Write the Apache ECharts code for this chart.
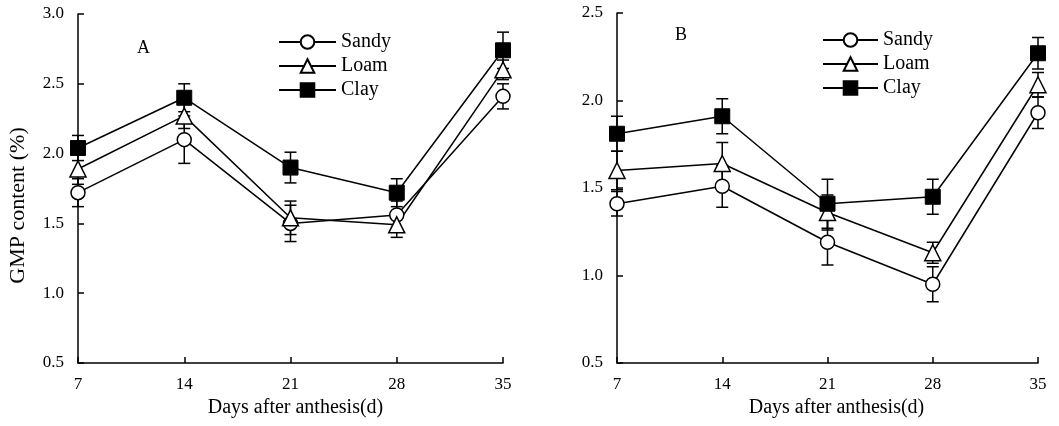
<!DOCTYPE html>
<html><head><meta charset="utf-8">
<script src="https://cdn.jsdelivr.net/npm/echarts@6/dist/echarts.min.js"></script>
<style>html,body{margin:0;padding:0;background:#fff}#c{width:1059px;height:426px}</style>
</head><body><div id="c"></div>
<script>
const days = [7, 14, 21, 28, 35];
const names = ['Sandy', 'Loam', 'Clay'];
// Panel A
const sandyA = [1.72, 2.10, 1.50, 1.56, 2.41];
const loamA  = [1.89, 2.27, 1.54, 1.49, 2.60];
const clayA  = [2.04, 2.40, 1.90, 1.72, 2.74];
const sandyAErr = [0.10, 0.17, 0.13, 0.10, 0.09];
const loamAErr  = [0.11, 0.09, 0.12, 0.09, 0.07];
const clayAErr  = [0.09, 0.10, 0.11, 0.10, 0.13];
// Panel B
const sandyB = [1.41, 1.51, 1.19, 0.95, 1.93];
const loamB  = [1.60, 1.64, 1.36, 1.13, 2.09];
const clayB  = [1.81, 1.91, 1.41, 1.45, 2.27];
const sandyBErr = [0.07, 0.12, 0.13, 0.10, 0.09];
const loamBErr  = [0.11, 0.12, 0.10, 0.06, 0.07];
const clayBErr  = [0.10, 0.10, 0.14, 0.10, 0.09];
const yTicksA = [0.5, 3.0];
const yTicksB = [0.5, 2.5];

const FONT = 'Liberation Serif';
const chart = echarts.init(document.getElementById('c'));

const styles = {
  Sandy: {symbol: 'circle', symbolSize: 14, itemStyle: {color: '#fff', borderColor: '#000', borderWidth: 1.5}},
  Loam:  {symbol: 'triangle', symbolSize: 16, itemStyle: {color: '#fff', borderColor: '#000', borderWidth: 1.5}},
  Clay:  {symbol: 'rect', symbolSize: 15, itemStyle: {color: '#000', borderColor: '#000', borderWidth: 1}}
};

function errSeries(vals, errs, gi, nm) {
  return {
    type: 'custom', name: nm, xAxisIndex: gi, yAxisIndex: gi, z: 1, clip: false,
    data: days.map((d, i) => [d, vals[i] - errs[i], vals[i] + errs[i]]),
    encode: {x: 0, y: [1, 2]},
    silent: true,
    renderItem: function (params, api) {
      const x = api.value(0), lo = api.value(1), hi = api.value(2);
      const p1 = api.coord([x, lo]), p2 = api.coord([x, hi]);
      const w = 6, st = {stroke: '#000', lineWidth: 1.5};
      return {type: 'group', children: [
        {type: 'line', shape: {x1: p1[0], y1: p1[1], x2: p2[0], y2: p2[1]}, style: st},
        {type: 'line', shape: {x1: p1[0] - w, y1: p1[1], x2: p1[0] + w, y2: p1[1]}, style: st},
        {type: 'line', shape: {x1: p2[0] - w, y1: p2[1], x2: p2[0] + w, y2: p2[1]}, style: st}
      ]};
    }
  };
}
function lineSeries(nm, vals, gi) {
  const s = styles[nm];
  return {
    type: 'line', name: nm, xAxisIndex: gi, yAxisIndex: gi, z: 3, clip: false,
    data: days.map((d, i) => [d, vals[i]]),
    symbol: s.symbol, symbolSize: s.symbolSize, itemStyle: s.itemStyle,
    lineStyle: {color: '#000', width: 1.5}, showAllSymbol: true
  };
}

function xAxis(gi, shiftPad) {
  return {
    gridIndex: gi, type: 'value', min: 7, max: 35, interval: 7,
    name: 'Days after anthesis(d)', nameLocation: 'middle', nameGap: 33,
    nameTextStyle: {fontFamily: FONT, fontSize: 20, color: '#000', padding: [0, 0, 0, shiftPad]},
    axisLine: {lineStyle: {color: '#000', width: 1.5}},
    axisTick: {inside: true, length: 6, lineStyle: {color: '#000', width: 1.5}},
    axisLabel: {fontFamily: FONT, fontSize: 17, color: '#000', margin: 13},
    splitLine: {show: false}
  };
}
function yAxis(gi, ticks, withName) {
  return {
    gridIndex: gi, type: 'value', min: ticks[0], max: ticks[1], interval: 0.5,
    name: withName ? 'GMP content (%)' : '', nameLocation: 'middle', nameGap: 49,
    nameTextStyle: {fontFamily: FONT, fontSize: 22, color: '#000', padding: [0, 34, 0, 0]},
    axisLine: {show: true, lineStyle: {color: '#000', width: 1.5}},
    axisTick: {show: true, inside: true, length: 6, lineStyle: {color: '#000', width: 1.5}},
    axisLabel: {fontFamily: FONT, fontSize: 17, color: '#000', margin: 14, formatter: v => v.toFixed(1)},
    splitLine: {show: false}
  };
}
function legend(left, top, w) {
  return {
    orient: 'vertical', left: left, top: top, data: names,
    itemWidth: w, itemHeight: 17, itemGap: 4,
    textStyle: {fontFamily: FONT, fontSize: 20, color: '#000'},
    selectedMode: false
  };
}

chart.setOption({
  animation: false,
  backgroundColor: '#fff',
  grid: [
    {left: 78, top: 14, width: 425, height: 349},
    {left: 617, top: 13, width: 421, height: 350}
  ],
  xAxis: [xAxis(0, 10), xAxis(1, 18)],
  yAxis: [yAxis(0, yTicksA, true), yAxis(1, yTicksB, false)],
  legend: [legend(273, 27, 57), legend(817, 25, 55)],
  graphic: [
    {type: 'text', left: 137, top: 39, style: {text: 'A', font: '18px "Liberation Serif"', fill: '#000'}},
    {type: 'text', left: 675, top: 26, style: {text: 'B', font: '18px "Liberation Serif"', fill: '#000'}}
  ],
  series: [
    errSeries(sandyA, sandyAErr, 0, 'eSA'), errSeries(loamA, loamAErr, 0, 'eLA'), errSeries(clayA, clayAErr, 0, 'eCA'),
    errSeries(sandyB, sandyBErr, 1, 'eSB'), errSeries(loamB, loamBErr, 1, 'eLB'), errSeries(clayB, clayBErr, 1, 'eCB'),
    lineSeries('Sandy', sandyA, 0), lineSeries('Loam', loamA, 0), lineSeries('Clay', clayA, 0),
    lineSeries('Sandy', sandyB, 1), lineSeries('Loam', loamB, 1), lineSeries('Clay', clayB, 1)
  ]
});
</script></body></html>
